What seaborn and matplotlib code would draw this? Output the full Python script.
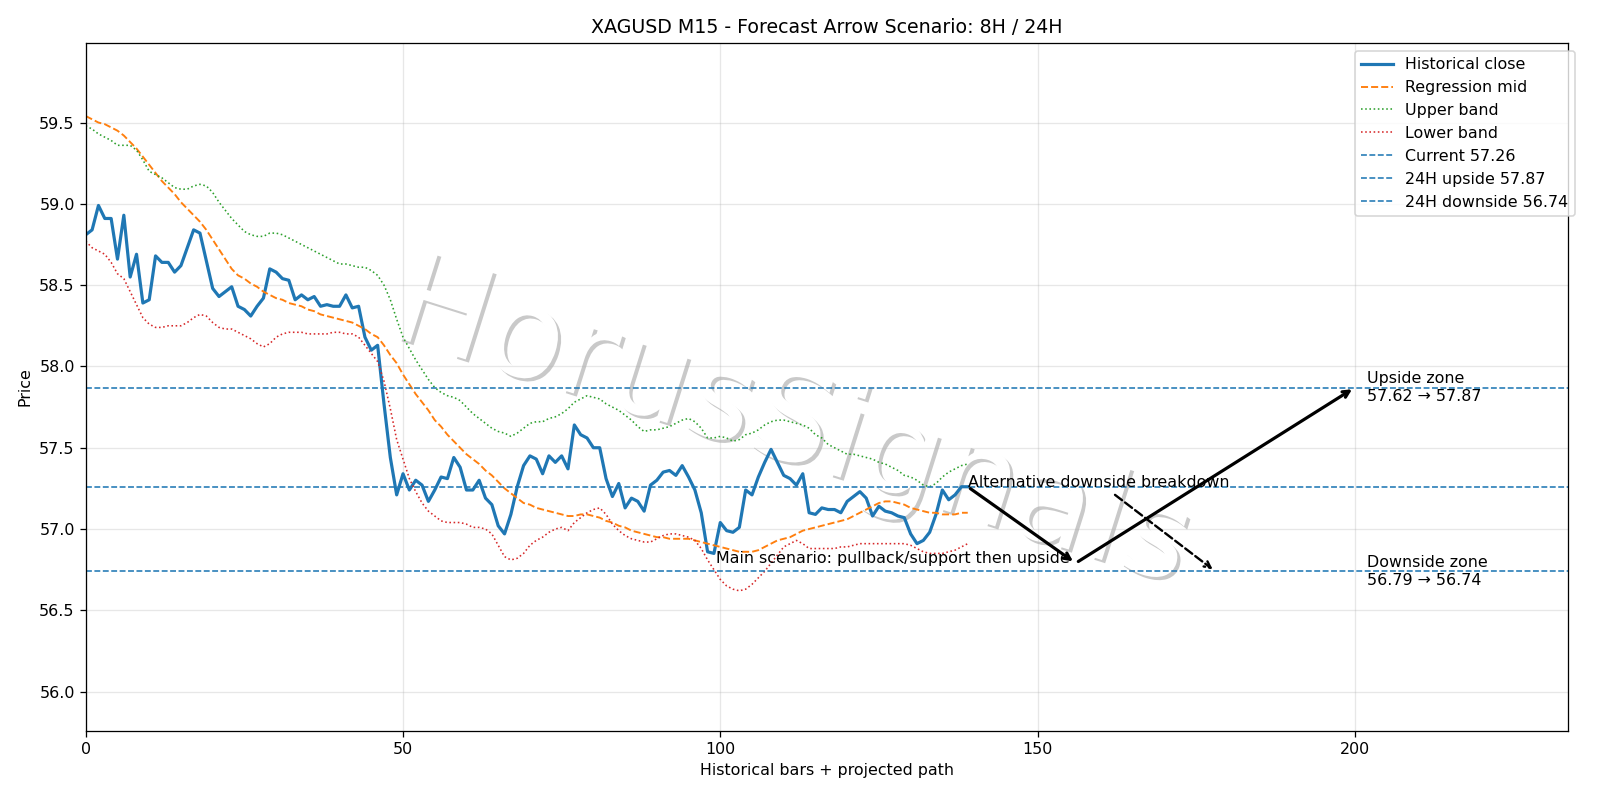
import numpy as np
import pandas as pd
import matplotlib
matplotlib.use("Agg")
import matplotlib.pyplot as plt
import matplotlib.patheffects as pe
import seaborn as sns

# ---------------- data ----------------
close = [58.81, 58.84, 58.99, 58.91, 58.91, 58.66, 58.93, 58.55, 58.69, 58.39,
         58.41, 58.68, 58.64, 58.64, 58.58, 58.62, 58.73, 58.84, 58.82, 58.65,
         58.48, 58.43, 58.46, 58.49, 58.37, 58.35, 58.31, 58.37, 58.42, 58.60,
         58.58, 58.54, 58.53, 58.41, 58.44, 58.41, 58.43, 58.37, 58.38, 58.37,
         58.37, 58.44, 58.36, 58.37, 58.18, 58.10, 58.13, 57.77, 57.44, 57.21,
         57.34, 57.24, 57.30, 57.27, 57.17, 57.24, 57.32, 57.31, 57.44, 57.38,
         57.24, 57.24, 57.30, 57.19, 57.15, 57.02, 56.97, 57.09, 57.26, 57.39,
         57.45, 57.43, 57.34, 57.45, 57.41, 57.45, 57.37, 57.64, 57.58, 57.56,
         57.50, 57.50, 57.31, 57.20, 57.28, 57.13, 57.19, 57.17, 57.11, 57.27,
         57.30, 57.35, 57.36, 57.33, 57.39, 57.32, 57.24, 57.10, 56.86, 56.85,
         57.04, 56.99, 56.98, 57.01, 57.24, 57.21, 57.32, 57.41, 57.49, 57.41,
         57.33, 57.31, 57.27, 57.34, 57.10, 57.09, 57.13, 57.12, 57.12, 57.10,
         57.17, 57.20, 57.23, 57.19, 57.08, 57.14, 57.11, 57.10, 57.08, 57.07,
         56.97, 56.91, 56.93, 56.98, 57.09, 57.24, 57.18, 57.21, 57.26, 57.26]

reg_mid = [59.54, 59.52, 59.50, 59.49, 59.47, 59.45, 59.42, 59.38, 59.34, 59.29,
           59.24, 59.19, 59.14, 59.10, 59.06, 59.01, 58.97, 58.93, 58.89, 58.84,
           58.78, 58.72, 58.66, 58.60, 58.56, 58.54, 58.51, 58.49, 58.46, 58.44,
           58.42, 58.41, 58.39, 58.38, 58.37, 58.35, 58.34, 58.32, 58.31, 58.30,
           58.29, 58.28, 58.27, 58.25, 58.23, 58.20, 58.18, 58.13, 58.07, 58.02,
           57.95, 57.89, 57.83, 57.78, 57.73, 57.67, 57.63, 57.58, 57.54, 57.50,
           57.46, 57.43, 57.40, 57.36, 57.33, 57.29, 57.25, 57.22, 57.19, 57.16,
           57.15, 57.13, 57.12, 57.11, 57.10, 57.09, 57.08, 57.08, 57.09, 57.09,
           57.08, 57.07, 57.05, 57.04, 57.02, 57.01, 56.99, 56.98, 56.97, 56.96,
           56.95, 56.95, 56.94, 56.94, 56.94, 56.94, 56.93, 56.92, 56.91, 56.90,
           56.89, 56.88, 56.87, 56.86, 56.86, 56.86, 56.87, 56.89, 56.91, 56.93,
           56.94, 56.95, 56.97, 56.99, 57.00, 57.01, 57.02, 57.03, 57.04, 57.05,
           57.06, 57.08, 57.10, 57.12, 57.14, 57.16, 57.17, 57.17, 57.16, 57.15,
           57.13, 57.12, 57.11, 57.10, 57.10, 57.09, 57.09, 57.09, 57.10, 57.10]

upper_band = [59.48, 59.46, 59.43, 59.41, 59.39, 59.36, 59.36, 59.36, 59.33, 59.27,
              59.20, 59.18, 59.16, 59.13, 59.10, 59.09, 59.09, 59.11, 59.12, 59.11,
              59.07, 59.01, 58.96, 58.91, 58.87, 58.83, 58.81, 58.80, 58.80, 58.82,
              58.82, 58.81, 58.79, 58.77, 58.75, 58.73, 58.71, 58.69, 58.67, 58.65,
              58.63, 58.63, 58.62, 58.61, 58.61, 58.59, 58.56, 58.50, 58.41, 58.29,
              58.18, 58.11, 58.04, 57.98, 57.92, 57.87, 57.84, 57.82, 57.81, 57.79,
              57.75, 57.71, 57.68, 57.65, 57.62, 57.60, 57.59, 57.57, 57.59, 57.62,
              57.65, 57.66, 57.66, 57.68, 57.69, 57.71, 57.74, 57.78, 57.80, 57.82,
              57.81, 57.80, 57.77, 57.75, 57.73, 57.70, 57.67, 57.63, 57.60, 57.61,
              57.61, 57.62, 57.63, 57.65, 57.67, 57.68, 57.66, 57.62, 57.56, 57.56,
              57.57, 57.56, 57.54, 57.55, 57.58, 57.59, 57.61, 57.64, 57.66, 57.67,
              57.67, 57.66, 57.65, 57.64, 57.62, 57.58, 57.56, 57.52, 57.50, 57.48,
              57.46, 57.46, 57.45, 57.44, 57.43, 57.41, 57.40, 57.38, 57.36, 57.33,
              57.32, 57.30, 57.27, 57.26, 57.28, 57.32, 57.35, 57.37, 57.39, 57.40]

lower_band = [58.77, 58.73, 58.71, 58.69, 58.64, 58.57, 58.54, 58.46, 58.38, 58.30,
              58.26, 58.24, 58.24, 58.25, 58.25, 58.25, 58.27, 58.30, 58.32, 58.31,
              58.27, 58.24, 58.23, 58.23, 58.21, 58.19, 58.17, 58.14, 58.12, 58.14,
              58.18, 58.20, 58.21, 58.21, 58.21, 58.20, 58.20, 58.20, 58.20, 58.21,
              58.21, 58.20, 58.20, 58.18, 58.13, 58.08, 58.03, 57.91, 57.74, 57.55,
              57.43, 57.31, 57.23, 57.16, 57.11, 57.08, 57.05, 57.04, 57.04, 57.04,
              57.03, 57.01, 57.01, 57.00, 56.97, 56.90, 56.83, 56.81, 56.82, 56.85,
              56.90, 56.93, 56.95, 56.98, 57.00, 57.01, 56.99, 57.04, 57.07, 57.10,
              57.12, 57.13, 57.09, 57.03, 56.99, 56.96, 56.94, 56.93, 56.92, 56.92,
              56.94, 56.96, 56.97, 56.97, 56.96, 56.95, 56.93, 56.88, 56.81, 56.75,
              56.69, 56.65, 56.63, 56.62, 56.63, 56.66, 56.70, 56.74, 56.79, 56.84,
              56.89, 56.91, 56.93, 56.91, 56.88, 56.88, 56.88, 56.88, 56.88, 56.89,
              56.89, 56.90, 56.91, 56.91, 56.91, 56.91, 56.91, 56.91, 56.91, 56.91,
              56.90, 56.88, 56.86, 56.85, 56.85, 56.85, 56.86, 56.87, 56.89, 56.91]

current_price = 57.26
upside_24h = 57.87
downside_24h = 56.74
support_8h = 56.79
upside_8h = 57.62

last_bar = 139
pivot_bar = 156
target_bar = 200
alt_bar = 178
zone_label_bar = 202

title = "XAGUSD M15 - Forecast Arrow Scenario: 8H / 24H"
xlabel = "Historical bars + projected path"
ylabel = "Price"
watermark = "HorusSignals"

df = pd.DataFrame({
    "bar": np.arange(len(close)),
    "close": close,
    "mid": reg_mid,
    "upper": upper_band,
    "lower": lower_band,
})

# ---------------- figure ----------------
DPI = 1600 / 14
fig, ax = plt.subplots(figsize=(14, 7), dpi=DPI)
fig.subplots_adjust(left=0.0536, right=0.980, top=0.9464, bottom=0.0867)

sns.lineplot(data=df, x="bar", y="close", ax=ax, color="#1f77b4", lw=2.0,
             label="Historical close")
sns.lineplot(data=df, x="bar", y="mid", ax=ax, color="#ff7f0e", lw=1.2,
             linestyle="--", label="Regression mid")
sns.lineplot(data=df, x="bar", y="upper", ax=ax, color="#2ca02c", lw=1.0,
             linestyle=":", label="Upper band")
sns.lineplot(data=df, x="bar", y="lower", ax=ax, color="#d62728", lw=1.0,
             linestyle=":", label="Lower band")

ax.axhline(current_price, color="#1f77b4", ls="--", lw=1.0,
           label=f"Current {current_price:.2f}")
ax.axhline(upside_24h, color="#1f77b4", ls="--", lw=1.0,
           label=f"24H upside {upside_24h:.2f}")
ax.axhline(downside_24h, color="#1f77b4", ls="--", lw=1.0,
           label=f"24H downside {downside_24h:.2f}")

# arrows (main scenario)
ax.annotate("", xy=(pivot_bar, support_8h), xytext=(last_bar, current_price),
            arrowprops=dict(arrowstyle="->", lw=2, color="black"))
ax.annotate("", xy=(target_bar, upside_24h), xytext=(pivot_bar, support_8h),
            arrowprops=dict(arrowstyle="->", lw=2, color="black"))
ax.text(155, support_8h, "Main scenario: pullback/support then upside",
        ha="right", va="baseline", fontsize=10)

# alternative scenario
ax.annotate("Alternative downside breakdown", xy=(alt_bar, downside_24h),
            xytext=(last_bar, current_price), fontsize=10,
            arrowprops=dict(arrowstyle="->", lw=1.5, ls="--", color="black"))

ax.text(zone_label_bar, upside_24h, f"Upside zone\n{upside_8h:.2f} \u2192 {upside_24h:.2f}",
        va="center", ha="left", fontsize=10)
ax.text(zone_label_bar, downside_24h, f"Downside zone\n{support_8h:.2f} \u2192 {downside_24h:.2f}",
        va="center", ha="left", fontsize=10)

# watermark
ax.text(0.495, 0.468, watermark, transform=fig.transFigure, fontsize=80,
        color="white", rotation=-17.5, ha="center", va="center", zorder=1,
        path_effects=[pe.withSimplePatchShadow()])

ax.set_xlim(0, 233.6)
ax.set_ylim(55.76, 59.99)
ax.set_xticks([0, 50, 100, 150, 200])
ax.set_yticks([56.0, 56.5, 57.0, 57.5, 58.0, 58.5, 59.0, 59.5])
ax.grid(True, alpha=0.3)
ax.set_title(title, fontsize=12)
ax.set_xlabel(xlabel)
ax.set_ylabel(ylabel)
ax.legend(loc="upper right", bbox_to_anchor=(1.010, 1.0))

fig.savefig("out.png", dpi=DPI)
